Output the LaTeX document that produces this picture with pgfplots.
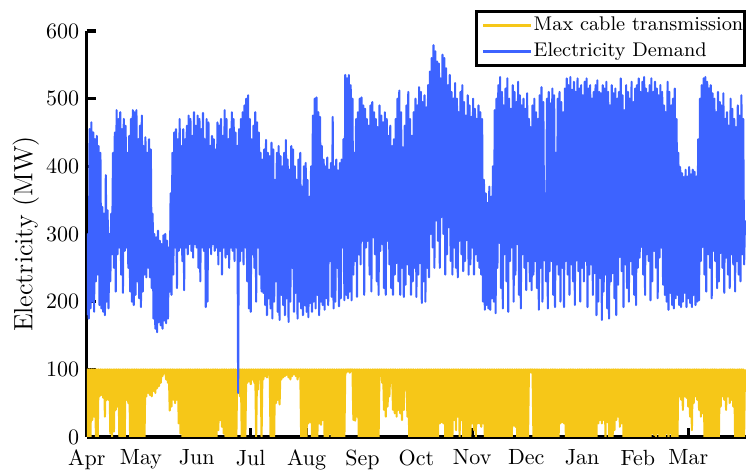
\documentclass[border=0pt]{standalone}
\usepackage{pgfplots}
\pgfplotsset{compat=1.18}
\definecolor{demandblue}{RGB}{61,99,255}
\definecolor{cableyellow}{RGB}{246,199,24}
\begin{document}
\begin{tikzpicture}
\begin{axis}[
  scale only axis, width=299.5pt, height=184.5pt,
  xmin=0, xmax=366, ymin=0, ymax=600,
  axis lines*=left,
  axis line style={line width=1.4pt, black},
  tick align=inside, major tick length=4pt,
  tick style={line width=1.4pt, black},
  xtick={0,30,61,91,122,153,183,214,244,275,306,334},
  xticklabels={Apr,May,Jun,Jul,Aug,Sep,Oct,Nov,Dec,Jan,Feb,Mar},
  xticklabel style={yshift=-2.3pt},
  ytick={0,100,200,300,400,500,600},
  ylabel={Electricity (MW)},
  ylabel style={font=\fontsize{12}{14}\selectfont, yshift=-3.6pt},
  legend style={at={(1,1)}, anchor=north east, yshift=9.6pt, draw=black, line width=1.4pt,
    font=\fontsize{9}{10.5}\selectfont, inner xsep=0pt, inner ysep=0.6pt, row sep=0pt,
    nodes={inner xsep=0.5pt},
    cells={anchor=west}, fill=white},
  legend image code/.code={\path (0pt,0pt); \draw[#1, line width=1.4pt] (2.6pt,0pt) -- (24.4pt,0pt);},
  legend cell align=left,
]
\addplot[cableyellow, line width=0.95pt, line join=round] table[header=false, row sep=\\, x expr=\coordindex*0.5, y index=0] {
0\\100\\0\\100\\0\\100\\25\\100\\30\\100\\0\\100\\0\\100\\60\\100\\62\\100\\58\\100\\
30\\100\\55\\100\\55\\100\\5\\100\\0\\100\\8\\100\\40\\100\\45\\100\\0\\100\\0\\100\\
0\\100\\0\\100\\55\\100\\50\\100\\0\\100\\0\\100\\0\\100\\0\\100\\0\\100\\0\\100\\
0\\100\\0\\100\\0\\100\\60\\100\\65\\100\\62\\100\\60\\100\\68\\100\\65\\100\\72\\100\\
75\\100\\80\\100\\90\\100\\94\\100\\85\\100\\80\\100\\39\\100\\45\\100\\55\\100\\50\\100\\
55\\100\\20\\100\\5\\100\\0\\100\\0\\100\\0\\100\\0\\100\\0\\100\\0\\100\\0\\100\\
0\\100\\0\\100\\0\\100\\0\\100\\0\\100\\0\\100\\0\\100\\0\\100\\0\\100\\0\\100\\
0\\100\\0\\100\\0\\100\\10\\100\\25\\100\\15\\100\\5\\100\\0\\100\\0\\100\\0\\100\\
0\\100\\0\\100\\0\\100\\0\\100\\65\\100\\60\\100\\0\\100\\0\\100\\0\\100\\80\\100\\
82\\100\\78\\100\\85\\100\\80\\100\\0\\100\\70\\100\\85\\100\\0\\100\\85\\100\\90\\100\\
88\\100\\92\\100\\0\\100\\0\\100\\0\\100\\50\\100\\55\\100\\48\\100\\85\\100\\88\\100\\
90\\100\\92\\100\\88\\100\\85\\100\\90\\100\\93\\100\\90\\100\\85\\100\\90\\100\\0\\100\\
0\\100\\0\\100\\0\\100\\20\\100\\22\\100\\0\\100\\0\\100\\0\\100\\0\\100\\20\\100\\
18\\100\\25\\100\\0\\100\\0\\100\\0\\100\\5\\100\\0\\100\\0\\100\\0\\100\\0\\100\\
0\\100\\0\\100\\0\\100\\0\\100\\95\\100\\97\\100\\95\\100\\98\\100\\25\\100\\24\\100\\
30\\100\\0\\100\\0\\100\\0\\100\\0\\100\\0\\100\\0\\100\\0\\100\\0\\100\\0\\100\\
0\\100\\0\\100\\0\\100\\95\\100\\80\\100\\40\\100\\30\\100\\45\\100\\60\\100\\80\\100\\
40\\100\\35\\100\\30\\100\\40\\100\\35\\100\\25\\100\\40\\100\\70\\100\\30\\100\\0\\100\\
0\\100\\0\\100\\0\\100\\0\\100\\0\\100\\0\\100\\0\\100\\0\\100\\0\\100\\0\\100\\
0\\100\\0\\100\\0\\100\\0\\100\\0\\100\\0\\100\\20\\100\\22\\100\\20\\100\\0\\100\\
0\\100\\0\\100\\0\\100\\0\\100\\25\\100\\10\\100\\30\\100\\0\\100\\25\\100\\0\\100\\
0\\100\\0\\100\\0\\100\\0\\100\\20\\100\\10\\100\\0\\100\\20\\100\\20\\100\\15\\100\\
20\\100\\0\\100\\0\\100\\0\\100\\0\\100\\0\\100\\0\\100\\0\\100\\0\\100\\0\\100\\
0\\100\\0\\100\\0\\100\\0\\100\\0\\100\\0\\100\\0\\100\\17\\100\\15\\100\\0\\100\\
0\\100\\0\\100\\0\\100\\0\\100\\0\\100\\0\\100\\95\\100\\95\\100\\0\\100\\0\\100\\
0\\100\\0\\100\\0\\100\\0\\100\\0\\100\\0\\100\\0\\100\\0\\100\\0\\100\\0\\100\\
0\\100\\0\\100\\0\\100\\20\\100\\22\\100\\20\\100\\0\\100\\0\\100\\0\\100\\0\\100\\
0\\100\\0\\100\\0\\100\\0\\100\\0\\100\\0\\100\\0\\100\\0\\100\\0\\100\\0\\100\\
0\\100\\0\\100\\0\\100\\0\\100\\20\\100\\25\\100\\20\\100\\25\\100\\0\\100\\22\\100\\
0\\100\\0\\100\\0\\100\\10\\100\\25\\100\\30\\100\\15\\100\\20\\100\\0\\100\\0\\100\\
0\\100\\0\\100\\0\\100\\0\\100\\0\\100\\0\\100\\0\\100\\0\\100\\0\\100\\0\\100\\
0\\100\\0\\100\\0\\100\\0\\100\\5\\100\\3\\100\\0\\100\\5\\100\\0\\100\\0\\100\\
0\\100\\0\\100\\5\\100\\0\\100\\5\\100\\0\\100\\0\\100\\0\\100\\0\\100\\60\\100\\
55\\100\\40\\100\\60\\100\\58\\100\\45\\100\\30\\100\\10\\100\\50\\100\\60\\100\\55\\100\\
40\\100\\30\\100\\35\\100\\0\\100\\0\\100\\0\\100\\0\\100\\0\\100\\0\\100\\0\\100\\
0\\100\\0\\100\\45\\100\\60\\100\\55\\100\\40\\100\\60\\100\\50\\100\\55\\100\\45\\100\\
0\\100\\0\\100\\0\\100\\0\\100\\0\\100\\0\\100\\
};
\addlegendentry{Max cable transmission}
\addplot[demandblue, line width=0.95pt, line join=round] table[header=false, row sep=\\, x expr=\coordindex*0.5, y index=0] {
180\\300\\175\\455\\190\\465\\200\\450\\185\\440\\230\\445\\240\\430\\195\\420\\190\\340\\185\\330\\
180\\387\\200\\335\\190\\300\\230\\330\\270\\420\\250\\450\\215\\483\\270\\470\\280\\480\\240\\455\\
213\\470\\275\\460\\280\\420\\250\\445\\215\\470\\200\\483\\195\\480\\210\\483\\230\\440\\205\\460\\
192\\475\\215\\430\\240\\443\\236\\420\\250\\440\\236\\425\\220\\330\\175\\300\\160\\295\\155\\305\\
170\\290\\165\\285\\160\\298\\172\\300\\168\\290\\175\\280\\215\\360\\210\\420\\240\\450\\280\\455\\
220\\440\\275\\470\\280\\430\\260\\455\\217\\440\\280\\460\\270\\475\\285\\470\\275\\445\\265\\480\\
285\\460\\280\\475\\250\\470\\230\\455\\280\\479\\275\\440\\192\\470\\200\\465\\280\\430\\270\\445\\
285\\440\\275\\425\\280\\465\\255\\460\\275\\470\\240\\445\\280\\483\\265\\470\\270\\440\\250\\455\\
280\\480\\275\\470\\260\\450\\280\\430\\65\\455\\260\\470\\275\\480\\255\\490\\280\\500\\230\\505\\
190\\470\\185\\440\\270\\460\\250\\480\\200\\465\\280\\450\\240\\420\\215\\410\\213\\425\\195\\439\\
180\\420\\205\\415\\190\\435\\175\\425\\200\\380\\230\\420\\185\\430\\173\\415\\210\\400\\195\\420\\
180\\439\\205\\410\\170\\395\\200\\430\\250\\425\\185\\400\\213\\380\\175\\410\\200\\420\\190\\370\\
180\\400\\195\\405\\185\\380\\177\\355\\198\\400\\185\\475\\200\\500\\190\\502\\210\\480\\180\\473\\
200\\430\\195\\410\\188\\400\\205\\413\\195\\395\\260\\405\\207\\473\\190\\400\\200\\410\\250\\394\\
193\\405\\205\\410\\280\\440\\202\\535\\210\\530\\205\\535\\215\\520\\202\\500\\240\\420\\260\\470\\
207\\480\\270\\500\\255\\502\\290\\490\\210\\485\\280\\470\\290\\460\\240\\490\\215\\495\\295\\480\\
270\\470\\230\\458\\210\\490\\275\\475\\285\\465\\220\\480\\210\\470\\290\\445\\255\\460\\220\\430\\
210\\440\\240\\470\\257\\500\\230\\512\\210\\480\\250\\428\\207\\460\\225\\490\\255\\510\\240\\470\\
210\\445\\230\\480\\250\\500\\207\\490\\240\\517\\257\\510\\198\\495\\230\\505\\200\\487\\250\\520\\
236\\540\\300\\560\\280\\579\\250\\570\\320\\555\\290\\552\\250\\530\\325\\565\\300\\560\\240\\545\\
270\\520\\310\\535\\260\\510\\240\\500\\280\\523\\250\\500\\236\\480\\290\\510\\270\\520\\245\\495\\
260\\475\\291\\505\\240\\490\\255\\473\\280\\500\\240\\485\\270\\470\\260\\490\\250\\480\\240\\470\\
200\\380\\188\\360\\195\\346\\190\\370\\188\\355\\205\\400\\200\\483\\183\\500\\250\\520\\287\\532\\
220\\510\\190\\490\\270\\515\\230\\530\\185\\500\\260\\485\\280\\520\\200\\510\\240\\495\\285\\525\\
210\\505\\190\\490\\270\\500\\250\\485\\217\\508\\260\\470\\230\\458\\217\\490\\240\\500\\260\\480\\
220\\470\\188\\505\\250\\517\\200\\495\\261\\360\\230\\500\\190\\510\\245\\493\\260\\515\\210\\505\\
192\\420\\255\\500\\240\\510\\200\\495\\250\\480\\192\\515\\260\\530\\240\\520\\210\\532\\255\\513\\
230\\525\\195\\510\\261\\530\\245\\515\\200\\520\\250\\505\\230\\525\\260\\530\\192\\515\\240\\520\\
255\\500\\210\\510\\242\\520\\180\\527\\200\\510\\235\\508\\173\\520\\215\\515\\240\\525\\190\\510\\
175\\490\\230\\520\\242\\508\\205\\515\\180\\500\\225\\510\\266\\530\\245\\505\\192\\483\\255\\520\\
220\\510\\200\\500\\260\\525\\240\\495\\210\\515\\195\\520\\250\\530\\265\\510\\281\\525\\240\\532\\
210\\515\\270\\508\\260\\520\\202\\530\\230\\510\\275\\525\\250\\515\\205\\505\\265\\520\\280\\510\\
225\\490\\210\\480\\200\\525\\188\\510\\213\\490\\195\\500\\190\\515\\205\\470\\210\\420\\195\\399\\
192\\390\\200\\384\\213\\395\\192\\385\\205\\399\\198\\388\\192\\395\\210\\392\\195\\385\\200\\440\\
202\\500\\260\\520\\281\\530\\240\\532\\215\\525\\270\\515\\250\\520\\205\\508\\275\\500\\260\\480\\
220\\510\\230\\495\\272\\490\\250\\508\\213\\470\\265\\480\\240\\460\\220\\500\\270\\485\\255\\470\\
215\\458\\260\\490\\240\\475\\230\\505\\270\\470\\255\\320\\
};
\addlegendentry{Electricity Demand}
\end{axis}
\pgfresetboundingbox
\path (current axis.south west) ++(-39.5pt,-16.8pt) rectangle ([shift={(0.5pt,14.1pt)}]current axis.north east);
\end{tikzpicture}
\end{document}
